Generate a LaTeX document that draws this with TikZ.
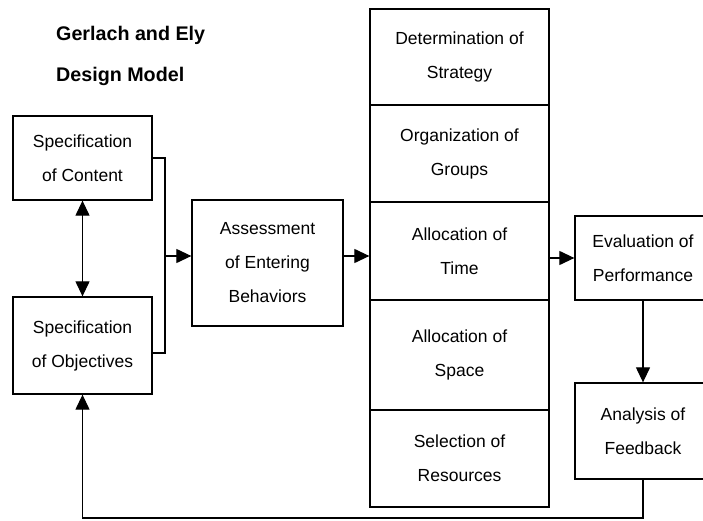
\documentclass[tikz,border=0pt]{standalone}
\usepackage{fontspec}
\setmainfont{Liberation Sans}
\usetikzlibrary{arrows.meta,calc}
\begin{document}
\begin{tikzpicture}[x=1pt,y=-1pt,
 box/.style={draw,line width=1.3pt,inner sep=0pt,align=center,font=\fontsize{17.5}{34}\selectfont},
 ttl/.style={anchor=base west,inner sep=0pt,font=\fontsize{19.7}{23}\selectfont\bfseries},
 arr/.style={line width=1.2pt,-{Triangle[length=15pt,width=14pt]}},
 darr/.style={line width=1.2pt,{Triangle[length=15pt,width=14pt]}-{Triangle[length=15pt,width=14pt]}},
 ln/.style={line width=1.2pt}]
\useasboundingbox (0,0) rectangle (703,521);
\clip (0,0) rectangle (703,521);
\fill[white] (0,0) rectangle (703,521);

\node[ttl] (t1) at (56,41) {Gerlach and Ely};
\node[ttl] (t2) at (56,82) {Design Model};

\node[box,minimum width=139,minimum height=84] (content) at (82.5,158) {Specification\\of Content};
\node[box,minimum width=139,minimum height=97] (objectives) at (82.5,345.5) {Specification\\of Objectives};
\node[box,minimum width=151,minimum height=126] (assess) at (267.5,263) {Assessment\\of Entering\\Behaviors};

\node[box,minimum width=179,minimum height=96] (strategy) at (459.5,57) {Determination of\\Strategy};
\node[box,minimum width=179,minimum height=97] (groups) at (459.5,153.5) {Organization of\\Groups};
\node[box,minimum width=179,minimum height=98] (time) at (459.5,251) {Allocation of\\Time};
\node[box,minimum width=179,minimum height=110] (space) at (459.5,355) {Allocation of\\Space};
\node[box,minimum width=179,minimum height=97] (resources) at (459.5,458.5) {Selection of\\Resources};

\node[box,minimum width=136,minimum height=84] (evaluation) at (643,258) {Evaluation of\\Performance};
\node[box,minimum width=136,minimum height=96] (analysis) at (643,431) {Analysis of\\Feedback};

\draw[darr] (content.south) -- (objectives.north);

\coordinate (bj) at (165,256);
\draw[ln] (content.east) -| (bj);
\draw[ln] ($(objectives.east)+(0,7.5)$) -| (bj);
\draw[arr] (bj) -- (assess.west |- bj);
\draw[arr] (assess.east |- bj) -- (time.west |- bj);
\draw[arr] (time.east |- evaluation.west) -- (evaluation.west);
\draw[arr] (evaluation.south) -- (analysis.north);

\coordinate (fb) at (643,518);
\draw[arr] (analysis.south) -- (fb) -| (objectives.south);
\end{tikzpicture}
\end{document}
